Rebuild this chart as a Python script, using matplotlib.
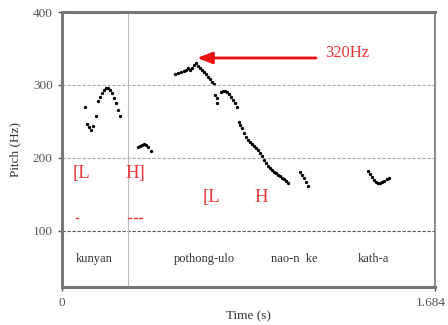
import matplotlib
matplotlib.use("Agg")
import matplotlib.pyplot as plt
import matplotlib.transforms as mtransforms

plt.rcParams['font.family'] = ['Liberation Serif', 'DejaVu Serif']

# pitch track segments (time in s, pitch in Hz)
seg1_t = [0.104, 0.113, 0.122, 0.131, 0.140, 0.154, 0.163, 0.172, 0.181, 0.190,
          0.199, 0.208, 0.217, 0.226, 0.235, 0.244, 0.253, 0.262]
seg1_hz = [270, 247, 242, 238, 244, 258, 278, 284, 289, 293,
           296, 296, 293, 289, 282, 275, 266, 258]

seg2_t = [0.343, 0.352, 0.361, 0.370, 0.379, 0.388, 0.402]
seg2_hz = [215, 216, 218, 219, 218, 215, 210]

seg3_t = [0.510, 0.524, 0.537, 0.551, 0.560, 0.569, 0.578, 0.587, 0.596, 0.605,
          0.614, 0.623, 0.632, 0.641, 0.650, 0.659, 0.668, 0.677, 0.686,
          0.691, 0.698, 0.702,
          0.718, 0.727, 0.736, 0.745, 0.754, 0.763, 0.772, 0.781, 0.790,
          0.799, 0.806, 0.813, 0.822, 0.831, 0.840, 0.849, 0.858, 0.867, 0.876,
          0.885, 0.894, 0.903, 0.912, 0.921, 0.930, 0.939, 0.948, 0.957, 0.966,
          0.975, 0.984, 0.993, 1.002, 1.011, 1.020]
seg3_hz = [315, 316, 318, 319, 321, 323, 321, 323, 327, 330,
           326, 323, 321, 318, 315, 311, 308, 304, 301,
           286, 282, 275,
           290, 292, 292, 290, 288, 284, 279, 275, 270,
           249, 245, 241, 234, 229, 225, 222, 219, 216, 214,
           211, 207, 203, 197, 193, 189, 186, 184, 181, 179,
           177, 175, 173, 171, 168, 166]

seg4_t = [1.075, 1.084, 1.093, 1.102, 1.111]
seg4_hz = [181, 177, 173, 167, 162]

seg5_t = [1.382, 1.391, 1.400, 1.409, 1.418, 1.427, 1.436, 1.445, 1.454, 1.467, 1.476]
seg5_hz = [182, 178, 174, 170, 167, 166, 166, 167, 168, 171, 173]

words = ['kunyan', 'pothong-ulo', 'nao-n  ke', 'kath-a']
word_t = [0.145, 0.645, 1.050, 1.405]
tones = ['[L', 'H]', '[L', 'H']
tone_t = [0.05, 0.285, 0.635, 0.87]
tone_hz = [178, 178, 145, 145]
boundary_t = 0.298
total_t = 1.684

fig = plt.figure(figsize=(4.48, 3.25), dpi=100)
ax = fig.add_axes([0.138, 0.117, 0.833, 0.846])

for t, hz in [(seg1_t, seg1_hz), (seg2_t, seg2_hz), (seg3_t, seg3_hz),
              (seg4_t, seg4_hz), (seg5_t, seg5_hz)]:
    ax.plot(t, hz, 'o', color='black', markersize=2.4, markeredgewidth=0)

ax.set_xlim(0, total_t)
ax.set_ylim(23, 400)

for y in [200, 300]:
    ax.axhline(y, color='#aaaaaa', lw=0.8, ls=(0, (3, 1.5)))
ax.axhline(100, color='#555555', lw=0.8, ls=(0, (3, 1.5)))
ax.axvline(boundary_t, color='#bbbbbb', lw=0.8)

for w, t in zip(words, word_t):
    ax.text(t, 62, w, ha='center', va='center', fontsize=9, color='#333333')

red = '#e8373c'
for s, t, hz in zip(tones, tone_t, tone_hz):
    ax.text(t, hz, s, ha='left', va='center', fontsize=13.5, color=red)
# small red marks under the tone letters
ax.plot([0.065, 0.075], [118, 118], color=red, lw=1)
for x0 in [0.298, 0.325, 0.350]:
    ax.plot([x0, x0 + 0.014], [118, 118], color=red, lw=1)

ax.annotate('', xy=(0.598, 337), xytext=(1.160, 337),
            arrowprops=dict(arrowstyle='-|>,head_length=0.9,head_width=0.35',
                            color='#ee1111', lw=2))
ax.text(1.190, 344, '320Hz', ha='left', va='center', fontsize=12, color=red)

ax.set_xticks([0, total_t])
ax.set_xticklabels(['0', '1.684'])
ax.set_yticks([100, 200, 300, 400])
ax.tick_params(colors='#555555', labelsize=9.5, length=3, width=1)
ax.tick_params(axis='x', pad=4)
# nudge the last x label a little left so it stays inside the figure
last = ax.get_xticklabels()[-1]
last.set_transform(last.get_transform() +
                   mtransforms.ScaledTranslation(-0.04, 0, fig.dpi_scale_trans))
for side in ['left', 'bottom', 'top']:
    ax.spines[side].set_linewidth(2.2)
    ax.spines[side].set_color('#777777')
ax.spines['right'].set_linewidth(1.2)
ax.spines['right'].set_color('#777777')

ax.set_xlabel('Time (s)', fontsize=9.5, color='#333333', labelpad=1)
ax.set_ylabel('Pitch (Hz)', fontsize=9.5, color='#333333', labelpad=8)

fig.savefig('out.png', dpi=100)
